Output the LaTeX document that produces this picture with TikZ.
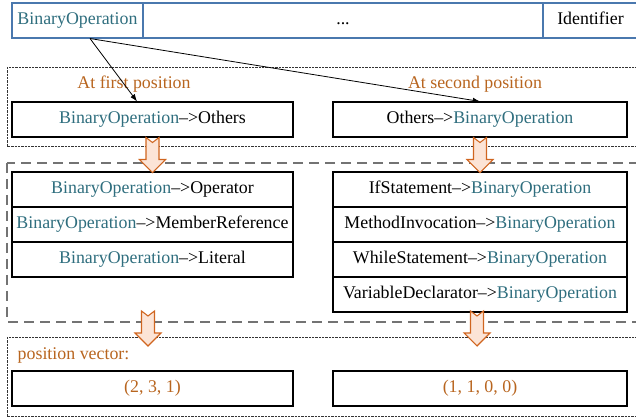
\documentclass[tikz,border=0pt]{standalone}
\usepackage{fontspec}
\setmainfont{LiberationSerif}[Extension=.ttf, UprightFont=*-Regular, BoldFont=*-Bold]
\usetikzlibrary{arrows.meta}
\definecolor{bocol}{HTML}{2F6E7E}
\definecolor{poscol}{HTML}{B8651F}
\definecolor{barcol}{HTML}{4A78AE}
\definecolor{arrfill}{HTML}{FCE4D6}
\definecolor{arredge}{HTML}{D0651F}
\newcommand{\BinOp}{\textcolor{bocol}{BinaryOperation}}
\newcommand{\tox}{--{>}}
\tikzset{
	box/.style={draw, line width=0.8pt, inner sep=0pt, minimum height=26.25pt, text height=9.5pt, text depth=3pt},
	lw/.style={box, minimum width=210.75pt},
	rw/.style={box, minimum width=220.5pt},
	bar/.style={draw=barcol, line width=0.8pt, inner sep=0pt, minimum height=26.25pt, text height=9.5pt, text depth=3pt},
	dotframe/.style={draw=black!80, line width=0.6pt, dash pattern=on 1.8pt off 0.7pt},
	dashframe/.style={draw=black!55, line width=1.3pt, dash pattern=on 7.5pt off 4.5pt},
	blk/.style={draw=arredge, fill=arrfill, line width=0.8pt, line join=miter},
	downarr/.pic={\draw[blk] (-6.5,0) -- (0,5) -- (6.5,0) -- (6.5,22) -- (13,22) -- (0,35) -- (-13,22) -- (-6.5,22) -- cycle;}
}
\begin{document}
\begin{tikzpicture}[x=0.75pt, y=-0.75pt, font=\rmfamily\fontsize{13.4}{16}\selectfont]
				\useasboundingbox (0,0) rectangle (636,420);
				\clip (0,0) rectangle (636,420);
				% frames
				\draw[dotframe] (7,67) rectangle (660,146);
				\draw[dashframe] (7,163) rectangle (660,322);
				\draw[dotframe] (7,337) rectangle (660,416);
				% token bar
				\node[bar, minimum width=98.25pt] (tb1) at (77.5,20.5) {\BinOp};
				\node[bar, minimum width=300pt] (tb2) at (343,20.5) {...};
				\node[bar, minimum width=71.25pt] (tb3) at (590.5,20.5) {Identifier};
				% positions
				\node[text=poscol] (pos1) at (134,84) {At first position};
				\node[text=poscol] (pos2) at (475,84) {At second position};
				\node[lw] (o1) at (152.5,119.5) {\BinOp\tox Others};
				\node[rw] (o2) at (480,119.5) {Others\tox\BinOp};
				\draw[line width=0.6pt, -{Latex[length=5.5pt,width=4pt]}] ([xshift=9.4pt]tb1.south) -- ([xshift=-11.6pt]o1.north);
				\draw[line width=0.6pt, -{Latex[length=5.5pt,width=4pt]}] ([xshift=9.4pt]tb1.south) -- (o2.north);
				% rules
				\node[lw] (l1) at (152.5,189.5) {\BinOp\tox Operator};
				\node[lw] (l2) at (152.5,224.5) {\BinOp\tox MemberReference};
				\node[lw] (l3) at (152.5,259.5) {\BinOp\tox Literal};
				\node[rw] (r1) at (480,189.5) {IfStatement\tox\BinOp};
				\node[rw] (r2) at (480,224.5) {MethodInvocation\tox\BinOp};
				\node[rw] (r3) at (480,259.5) {WhileStatement\tox\BinOp};
				\node[rw] (r4) at (480,294.5) {VariableDeclarator\tox\BinOp};
				% vectors
				\node[text=poscol, anchor=west] (pv) at (13,355) {position vector:};
				\node[lw, text=poscol] (v1) at (152.5,388.5) {(2, 3, 1)};
				\node[rw, text=poscol] (v2) at (480,388.5) {(1, 1, 0, 0)};
				\pic at (o1.south) {downarr};
				\pic at (o2.south) {downarr};
				\pic at (148,311) {downarr};
				\pic at (477,311) {downarr};
			\end{tikzpicture}
\end{document}
